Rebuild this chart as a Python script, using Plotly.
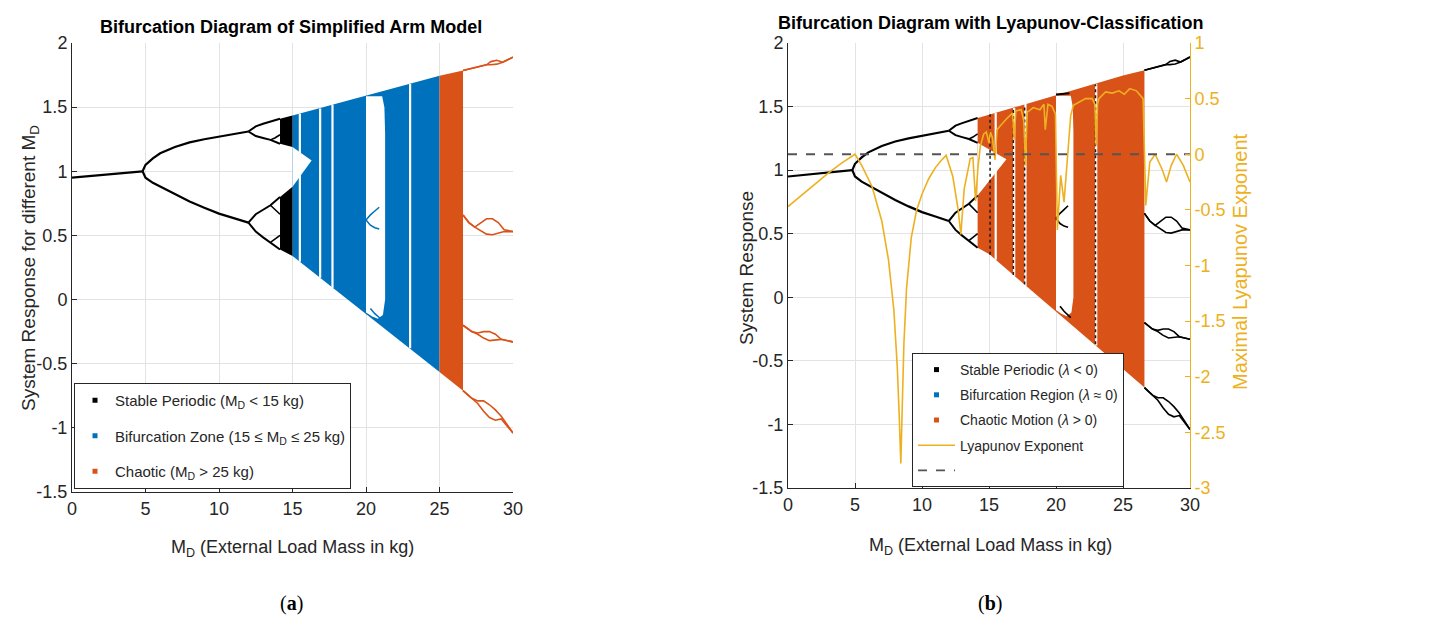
import plotly.graph_objects as go

# ---------------- data ----------------
# period-1 branch
p1_x = [0, 1, 2, 3, 4, 4.8]
p1_y = [0.95, 0.96, 0.97, 0.98, 0.99, 1.0]
# period-2 branches
p2_x = [4.8, 5.0, 5.5, 6, 7, 8, 9, 10, 11, 12]
p2_up = [1.0, 1.05, 1.1, 1.14, 1.19, 1.225, 1.25, 1.27, 1.29, 1.31]
p2_lo = [1.0, 0.95, 0.91, 0.88, 0.82, 0.765, 0.715, 0.67, 0.635, 0.60]
# period-4 branches
p4_x = [12, 12.5, 13, 13.5, 14.15]
p4_uu = [1.31, 1.35, 1.37, 1.39, 1.41]
p4_ul = [1.31, 1.275, 1.26, 1.245, 1.215]
p4_lu = [0.60, 0.665, 0.70, 0.735, 0.80]
p4_ll = [0.60, 0.53, 0.485, 0.445, 0.39]
# period-8 secondary lines
p8_x = [13.5, 13.8, 14.15]
p8_a = [1.245, 1.26, 1.285]
p8_b = [0.735, 0.70, 0.665]
p8_c = [0.445, 0.47, 0.50]
# black dense bands before 15 kg
band_x = [14.15, 15.0]
band_up_top = [1.41, 1.435]
band_up_bot = [1.215, 1.19]
band_lo_top = [0.80, 0.88]
band_lo_bot = [0.39, 0.34]

# chaotic envelope
env_x = [14.15, 15.0, 20.0, 25.0, 26.6]
env_top = [1.41, 1.435, 1.59, 1.745, 1.785]
env_bot = [0.39, 0.34, -0.11, -0.565, -0.71]

# white wedge between the two bands
wedge_x = [15.0, 16.3, 15.0]
wedge_y = [1.19, 1.085, 0.88]
wedge_x_b = [14.15, 16.3, 14.15]
wedge_y_b = [1.215, 1.085, 0.80]

# large periodic window
win_x = [20.0, 20.0, 21.1, 21.25, 21.3, 21.3, 21.15, 20.8, 20.4, 20.0]
win_y = [-0.1, 1.585, 1.585, 1.5, 1.3, 0.0, -0.12, -0.15, -0.13, -0.1]
# orbit lines inside the window
orb_top_x = [20.0, 20.5, 21.0]
orb_top_y = [1.595, 1.6, 1.605]
orb_mid_x = [20.0, 20.3, 20.6, 20.9]
orb_mid_a = [0.62, 0.66, 0.69, 0.72]
orb_mid_b = [0.62, 0.58, 0.56, 0.55]
orb_bot_x = [20.3, 20.6, 20.9, 21.1]
orb_bot_y = [-0.07, -0.11, -0.14, -0.16]

# thin periodic windows (white stripes)
stripe_x = [15.5, 16.88, 17.72, 23.0]
stripe_top = [1.45, 1.49, 1.52, 1.68]
stripe_bot = [0.295, 0.17, 0.09, -0.38]
# periodic (black) orbits inside windows, right panel
blk_x = [15.08, 16.82, 17.66, 22.95]
blk_top = [1.44, 1.485, 1.51, 1.675]
blk_bot = [0.335, 0.175, 0.10, -0.37]

# post-chaos branches (period-4 with small eyes)
b1_x = [26.6, 27.5, 28.2, 28.5, 28.9, 29.3, 30]
b1_a = [1.785, 1.81, 1.83, 1.855, 1.865, 1.85, 1.89]
b1_b = [1.785, 1.81, 1.83, 1.83, 1.835, 1.85, 1.89]
b2_x = [26.6, 27.0, 27.4, 27.8, 28.2, 28.6, 29.0, 29.4, 30]
b2_a = [0.66, 0.60, 0.565, 0.60, 0.63, 0.63, 0.60, 0.545, 0.53]
b2_b = [0.66, 0.60, 0.565, 0.535, 0.51, 0.505, 0.515, 0.53, 0.53]
b3_x = [26.6, 27.2, 27.6, 28.0, 28.4, 28.8, 29.2, 30]
b3_a = [-0.20, -0.25, -0.26, -0.25, -0.25, -0.27, -0.31, -0.33]
b3_b = [-0.20, -0.25, -0.27, -0.30, -0.32, -0.315, -0.31, -0.33]
b4_x = [26.6, 27.2, 27.6, 28.0, 28.4, 28.8, 29.2, 30]
b4_a = [-0.71, -0.77, -0.79, -0.79, -0.82, -0.86, -0.91, -1.04]
b4_b = [-0.71, -0.77, -0.81, -0.87, -0.92, -0.94, -0.93, -1.04]

# maximal Lyapunov exponent
lyap_x = [0, 1, 2, 3, 4, 5.0, 5.5, 6.27, 7.0, 7.5, 7.9, 8.15, 8.3, 8.42, 8.52,
          8.65, 8.85, 9.2, 9.6, 10.0, 10.5, 11.0, 11.4, 11.8, 12.3, 12.7, 12.9,
          13.15, 13.6, 13.8, 14.0, 14.17, 14.35, 14.6, 14.8, 15.0, 15.1, 15.25,
          15.45, 15.6, 15.8, 16.0, 16.4, 16.76, 16.88, 17.0, 17.4, 17.6, 17.72,
          17.85, 18.0, 18.3, 18.8, 19.1, 19.2, 19.4, 19.7, 19.96, 20.1, 20.35,
          20.6, 20.85, 21.1, 21.3, 21.7, 22.2, 22.7, 22.9, 23.0, 23.1, 23.2,
          23.7, 24.2, 24.7, 25.1, 25.5, 26.0, 26.5, 26.7, 27.0, 27.4, 27.9,
          28.25, 28.6, 29.0, 29.5, 30.0]
lyap_y = [-0.47, -0.37, -0.27, -0.17, -0.08, 0.0, -0.1, -0.29, -0.6, -0.95,
          -1.4, -1.9, -2.35, -2.78, -2.3, -1.7, -1.2, -0.75, -0.5, -0.36, -0.22,
          -0.12, -0.06, -0.01, -0.2, -0.5, -0.72, -0.31, -0.04, -0.03, -0.42,
          -0.13, 0.07, 0.18, 0.2, 0.1, 0.2, 0.15, -0.05, 0.22, 0.25, 0.28, 0.33,
          0.37, 0.13, 0.39, 0.4, 0.3, -0.1, 0.38, 0.39, 0.42, 0.4, 0.45, 0.22,
          0.45, 0.43, 0.36, -0.68, -0.19, -0.43, -0.04, 0.35, 0.44, 0.47, 0.5,
          0.5, 0.45, 0.08, 0.45, 0.5, 0.56, 0.55, 0.57, 0.54, 0.59, 0.57, 0.5,
          -0.46, -0.07, 0.0, -0.13, -0.25, -0.1, 0.0, -0.1, -0.25]
zero_x = [0, 30]
zero_y = [0, 0]

# ticks
x_ticks = [0, 5, 10, 15, 20, 25, 30]
x_ticktext = ["0", "5", "10", "15", "20", "25", "30"]
y_ticks = [-1.5, -1, -0.5, 0, 0.5, 1, 1.5, 2]
y_ticktext = ["-1.5", "-1", "-0.5", "0", "0.5", "1", "1.5", "2"]
y3_ticks = [-3, -2.5, -2, -1.5, -1, -0.5, 0, 0.5, 1]
y3_ticktext = ["-3", "-2.5", "-2", "-1.5", "-1", "-0.5", "0", "0.5", "1"]

# ---------------- styling ----------------
BLUE = "#0072BD"
ORANGE = "#D95319"
YELLOW = "#EDB120"
BLACK = "#000000"
FONT = "Liberation Sans, Arial, sans-serif"
AX = "#262626"

fig = go.Figure()


def poly(x, y, color, xa, ya):
    fig.add_trace(go.Scatter(x=x, y=y, mode="lines", fill="toself",
                             fillcolor=color, line=dict(width=0, color=color),
                             hoverinfo="skip", showlegend=False,
                             xaxis=xa, yaxis=ya))


def line(x, y, color, width, xa, ya, dash="solid"):
    fig.add_trace(go.Scatter(x=x, y=y, mode="lines",
                             line=dict(color=color, width=width, dash=dash),
                             hoverinfo="skip", showlegend=False,
                             xaxis=xa, yaxis=ya))


def stable_branches(xa, ya):
    line(p1_x, p1_y, BLACK, 2.2, xa, ya)
    line(p2_x, p2_up, BLACK, 2.2, xa, ya)
    line(p2_x, p2_lo, BLACK, 2.2, xa, ya)
    for yy in (p4_uu, p4_ul, p4_lu, p4_ll):
        line(p4_x, yy, BLACK, 2.0, xa, ya)
    for yy in (p8_a, p8_b, p8_c):
        line(p8_x, yy, BLACK, 1.6, xa, ya)


def post_branches(color, xa, ya):
    for bx, ba, bb in ((b1_x, b1_a, b1_b), (b2_x, b2_a, b2_b),
                       (b3_x, b3_a, b3_b), (b4_x, b4_a, b4_b)):
        line(bx, ba, color, 1.6, xa, ya)
        line(bx, bb, color, 1.6, xa, ya)


# ================= left panel =================
i15 = env_x.index(15.0)
i25 = env_x.index(25.0)
bx_ = env_x[i15:i25 + 1]
poly(bx_ + bx_[::-1], env_top[i15:i25 + 1] + env_bot[i15:i25 + 1][::-1], BLUE, "x", "y")
ox_ = env_x[i25:]
poly(ox_ + ox_[::-1], env_top[i25:] + env_bot[i25:][::-1], ORANGE, "x", "y")
# black dense bands
poly(band_x + band_x[::-1], band_up_top + band_up_bot[::-1], BLACK, "x", "y")
poly(band_x + band_x[::-1], band_lo_top + band_lo_bot[::-1], BLACK, "x", "y")
# gaps
poly(wedge_x, wedge_y, "white", "x", "y")
poly(win_x, win_y, "white", "x", "y")
for sx, st, sb in zip(stripe_x, stripe_top, stripe_bot):
    line([sx, sx], [sb, st], "white", 2.2, "x", "y")
line(orb_mid_x, orb_mid_a, BLUE, 1.5, "x", "y")
line(orb_mid_x, orb_mid_b, BLUE, 1.5, "x", "y")
line(orb_bot_x, orb_bot_y, BLUE, 1.5, "x", "y")
stable_branches("x", "y")
post_branches(ORANGE, "x", "y")

# legend entries (left)
for name, col, grp in (("Stable Periodic (M<sub>D</sub> &lt; 15 kg)", BLACK, "a1"),
                       ("Bifurcation Zone (15 ≤ M<sub>D</sub> ≤ 25 kg)", BLUE, "a2"),
                       ("Chaotic (M<sub>D</sub> &gt; 25 kg)", ORANGE, "a3")):
    fig.add_trace(go.Scatter(x=[None], y=[None], mode="markers", name=name,
                             marker=dict(symbol="square", size=5, color=col),
                             legend="legend", legendgroup=grp,
                             xaxis="x", yaxis="y"))

# ================= right panel =================
poly(env_x + env_x[::-1], env_top + env_bot[::-1], ORANGE, "x2", "y2")
poly(wedge_x_b, wedge_y_b, "white", "x2", "y2")
poly(win_x, win_y, "white", "x2", "y2")
for sx, st, sb in zip(stripe_x, stripe_top, stripe_bot):
    line([sx, sx], [sb, st], "white", 2.2, "x2", "y2")
for bxx, bt, bb in zip(blk_x, blk_top, blk_bot):
    line([bxx, bxx], [bb, bt], "#1a1a1a", 1.5, "x2", "y2", dash="dot")
line(orb_top_x, orb_top_y, BLACK, 2.0, "x2", "y2")
line(orb_mid_x, orb_mid_a, BLACK, 1.6, "x2", "y2")
line(orb_mid_x, orb_mid_b, BLACK, 1.6, "x2", "y2")
line(orb_bot_x, orb_bot_y, BLACK, 1.6, "x2", "y2")
stable_branches("x2", "y2")
post_branches(BLACK, "x2", "y2")

for name, col, grp in (("Stable Periodic (<i>λ</i> &lt; 0)", BLACK, "b1"),
                       ("Bifurcation Region (<i>λ</i> ≈ 0)", BLUE, "b2"),
                       ("Chaotic Motion (<i>λ</i> &gt; 0)", ORANGE, "b3")):
    fig.add_trace(go.Scatter(x=[None], y=[None], mode="markers", name=name,
                             marker=dict(symbol="square", size=5, color=col),
                             legend="legend2", legendgroup=grp,
                             xaxis="x2", yaxis="y2"))

fig.add_trace(go.Scatter(x=lyap_x, y=lyap_y, mode="lines", name="Lyapunov Exponent",
                         line=dict(color=YELLOW, width=1.6),
                         legend="legend2", legendgroup="b4",
                         xaxis="x2", yaxis="y3"))
fig.add_trace(go.Scatter(x=zero_x, y=zero_y, mode="lines", name=" ",
                         line=dict(color="#555555", width=1.8, dash="dash"),
                         legend="legend2", legendgroup="b5",
                         xaxis="x2", yaxis="y3"))

# ---------------- layout ----------------
W, H = 1450, 624


def px_x(p):
    return p / W


def px_y(p):
    return 1 - p / H


xcommon = dict(range=[0, 30], tickvals=x_ticks, ticktext=x_ticktext,
               showgrid=True, gridcolor="#e3e3e3", gridwidth=1, zeroline=False,
               showline=True, linecolor=AX, linewidth=1, ticks="inside",
               ticklen=5, tickcolor=AX, automargin=False,
               tickfont=dict(family=FONT, size=18, color=AX))
ycommon = dict(range=[-1.5, 2], tickvals=y_ticks, ticktext=y_ticktext,
               showgrid=True, gridcolor="#e3e3e3", gridwidth=1, zeroline=False,
               showline=True, linecolor=AX, linewidth=1, ticks="inside",
               ticklen=5, tickcolor=AX, automargin=False,
               tickfont=dict(family=FONT, size=18, color=AX))

fig.update_layout(
    width=W, height=H,
    margin=dict(l=0, r=0, t=0, b=0, pad=0, autoexpand=False),
    paper_bgcolor="white", plot_bgcolor="white",
    font=dict(family=FONT, size=16, color=AX),
    xaxis=dict(domain=[px_x(72), px_x(513)], anchor="y", **xcommon),
    yaxis=dict(domain=[px_y(492), px_y(43)], anchor="x", **ycommon),
    xaxis2=dict(domain=[px_x(788), px_x(1190)], anchor="y2", **xcommon),
    yaxis2=dict(domain=[px_y(488), px_y(43)], anchor="x2", **ycommon),
    yaxis3=dict(range=[-3, 1], tickvals=y3_ticks, ticktext=y3_ticktext,
                overlaying="y2", side="right", anchor="x2",
                showgrid=False, zeroline=False, showline=True, automargin=False,
                linecolor=YELLOW, linewidth=1, ticks="inside", ticklen=5,
                tickcolor=YELLOW,
                tickfont=dict(family=FONT, size=18, color=YELLOW)),
    legend=dict(x=px_x(74), y=px_y(383), xanchor="left", yanchor="top",
                bgcolor="white", bordercolor=AX, borderwidth=1,
                font=dict(family=FONT, size=15, color=AX),
                tracegroupgap=13, itemwidth=30),
    legend2=dict(x=px_x(912), y=px_y(353), xanchor="left", yanchor="top",
                 bgcolor="white", bordercolor=AX, borderwidth=1,
                 font=dict(family=FONT, size=14, color=AX),
                 tracegroupgap=4, itemwidth=37),
    showlegend=True,
)

annotations = [
    dict(text="<b>Bifurcation Diagram of Simplified Arm Model</b>",
         x=px_x(291), y=px_y(27), font=dict(family=FONT, size=18, color="black")),
    dict(text="<b>Bifurcation Diagram with Lyapunov-Classification</b>",
         x=px_x(990), y=px_y(23), font=dict(family=FONT, size=18, color="black")),
    dict(text="System Response for different M<sub>D</sub>", textangle=-90,
         x=px_x(30), y=px_y(268), font=dict(family=FONT, size=19, color=AX)),
    dict(text="M<sub>D</sub> (External Load Mass in kg)",
         x=px_x(292), y=px_y(548), font=dict(family=FONT, size=18, color=AX)),
    dict(text="System Response", textangle=-90,
         x=px_x(746), y=px_y(268), font=dict(family=FONT, size=19, color=AX)),
    dict(text="M<sub>D</sub> (External Load Mass in kg)",
         x=px_x(990), y=px_y(546), font=dict(family=FONT, size=18, color=AX)),
    dict(text="Maximal Lyapunov Exponent", textangle=-90,
         x=px_x(1240), y=px_y(262), font=dict(family=FONT, size=20, color=YELLOW)),
    dict(text="(<b>a</b>)", x=px_x(291), y=px_y(603),
         font=dict(family="Liberation Serif, DejaVu Serif, serif", size=20, color="black")),
    dict(text="(<b>b</b>)", x=px_x(990), y=px_y(603),
         font=dict(family="Liberation Serif, DejaVu Serif, serif", size=20, color="black")),
]
for a in annotations:
    a.update(xref="paper", yref="paper", showarrow=False,
             xanchor="center", yanchor="middle")
fig.update_layout(annotations=annotations)

fig.write_html("out.html", config={"displayModeBar": False},
               post_script="document.body.style.margin='0';document.body.style.overflow='hidden';")
